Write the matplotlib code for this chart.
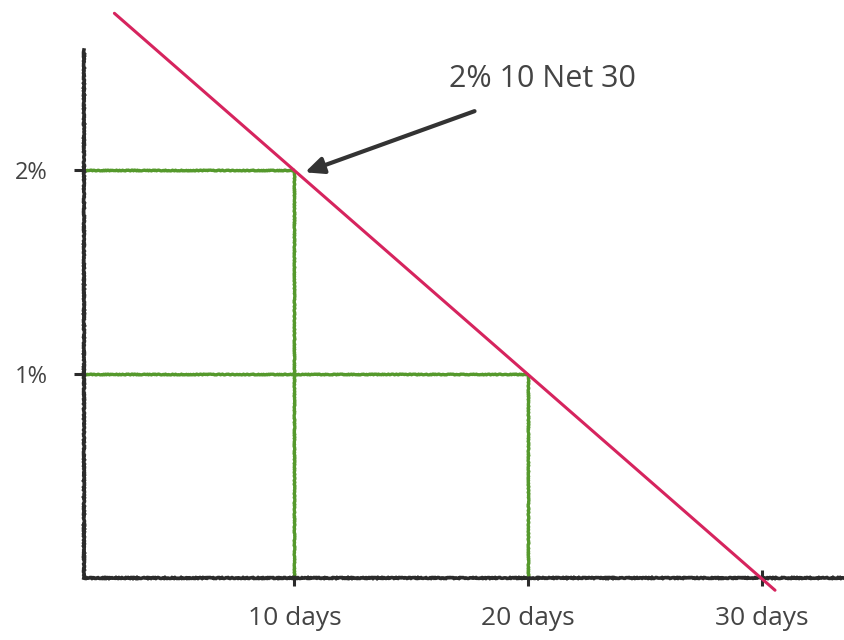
import matplotlib
matplotlib.use("Agg")
import matplotlib.pyplot as plt

# discount terms
days = [10, 20, 30]
rates = [2, 1, 0]
day_labels = ["10 days", "20 days", "30 days"]
rate_ticks = [1, 2]
rate_labels = ["1%", "2%"]

# the red line runs a bit past both ends
line_days = [2.3, 30.55]
line_rates = [2.77, -0.06]

red = "#d6245e"
green = "#55992c"
ink = "#2b2b2b"
grey = "#444444"

plt.rcParams["font.family"] = ["Open Sans", "DejaVu Sans"]

fig = plt.figure(figsize=(8.44, 6.4), dpi=100)
ax = fig.add_axes([84 / 844, 62 / 640, 760 / 844, 528 / 640])

x0 = 1.0
ax.set_xlim(x0, 33.5)
ax.set_ylim(0, 2.59)

# green guides for the first two points
for d, r in zip(days[:2], rates[:2]):
    h, = ax.plot([x0, d], [r, r], color=green, lw=2.4, solid_capstyle="butt", zorder=2)
    v, = ax.plot([d, d], [r, 0], color=green, lw=2.4, solid_capstyle="butt", zorder=2)
    h.set_sketch_params(0.4, 3, 3)
    v.set_sketch_params(0.4, 3, 3)

ax.plot(line_days, line_rates, color=red, lw=2.2, clip_on=False,
        solid_capstyle="round", zorder=3)

for side in ["top", "right"]:
    ax.spines[side].set_visible(False)
for side in ["left", "bottom"]:
    ax.spines[side].set_color(ink)
    ax.spines[side].set_linewidth(2.6)
    ax.spines[side].set_sketch_params(0.5, 3, 3)

ax.set_xticks(days)
ax.set_xticklabels(day_labels)
ax.set_yticks(rate_ticks)
ax.set_yticklabels(rate_labels)
ax.tick_params(axis="x", direction="inout", length=12, width=2.2, color=ink,
               pad=14, labelsize=19, labelcolor=grey)
ax.tick_params(axis="y", direction="out", length=7, width=2.2, color=ink,
               pad=19, labelsize=17, labelcolor=grey)

ax.text(16.6, 2.45, "2% 10 Net 30", fontsize=22, color=grey,
        va="center", ha="left")
ax.annotate("", xy=(10.45, 1.99), xytext=(17.7, 2.29),
            arrowprops=dict(arrowstyle="-|>,head_length=1.1,head_width=0.5",
                            color="#333333", lw=3, shrinkA=0, shrinkB=0))

fig.savefig("out.png", dpi=100)
